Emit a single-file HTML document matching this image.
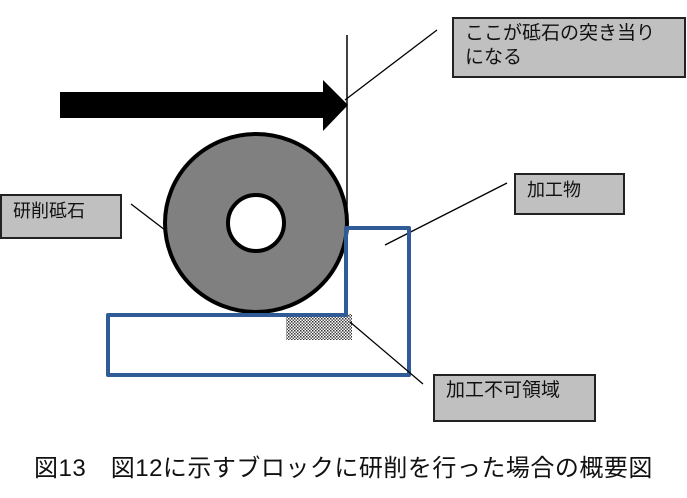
<!DOCTYPE html>
<html><head><meta charset="utf-8"><style>
body{margin:0;width:687px;height:498px;background:#fff;overflow:hidden;position:relative;font-family:"Liberation Sans","Noto Sans CJK JP",sans-serif}
.b{position:absolute;background:#c0c0c0;border:2px solid #222;box-sizing:border-box;font-size:18px;color:#111;padding:3px 0 0 11px;line-height:24px}
</style></head><body>
<svg width="687" height="498" style="position:absolute;left:0;top:0">
<defs><pattern id="h" width="3" height="3" patternUnits="userSpaceOnUse"><rect width="3" height="3" fill="#fff"/><rect width="1.5" height="1.5" fill="#333"/><rect x="1.5" y="1.5" width="1.5" height="1.5" fill="#555"/></pattern></defs>
<polygon points="60,92 323,92 323,80 348,105 323,131 323,118 60,118" fill="#000"/>
<line x1="347" y1="35" x2="347" y2="232" stroke="#000" stroke-width="1.5"/>
<line x1="437" y1="30" x2="345" y2="100" stroke="#000" stroke-width="1.3"/>
<line x1="131" y1="204" x2="165" y2="230" stroke="#000" stroke-width="1.3"/>
<line x1="507" y1="183" x2="385" y2="245" stroke="#000" stroke-width="1.3"/>
<ellipse cx="256" cy="223" rx="91" ry="89" fill="#808080" stroke="#000" stroke-width="4"/>
<circle cx="256" cy="223" r="28" fill="#fff" stroke="#000" stroke-width="4"/>
<rect x="286" y="314" width="66" height="26" fill="url(#h)"/>
<path d="M346,228 L409,228 L409,375 L108,375 L108,315 L346,315 Z" fill="none" stroke="#2f5b96" stroke-width="4" stroke-linejoin="round"/>
<line x1="350" y1="322" x2="423" y2="384" stroke="#000" stroke-width="1.3"/>
</svg>
<div class="b" style="left:452px;top:17px;width:234px;height:61px;font-size:19px">ここが砥石の突き当り<br>になる</div>
<div class="b" style="left:0;top:194px;width:122px;height:45px">研削砥石</div>
<div class="b" style="left:514px;top:173px;width:111px;height:42px">加工物</div>
<div class="b" style="left:433px;top:374px;width:163px;height:48px;font-size:19px">加工不可領域</div>
<div style="position:absolute;left:0;width:687px;top:448px;text-align:center;font-size:24px;letter-spacing:0.5px;color:#111">図13　図12に示すブロックに研削を行った場合の概要図</div>
</body></html>
